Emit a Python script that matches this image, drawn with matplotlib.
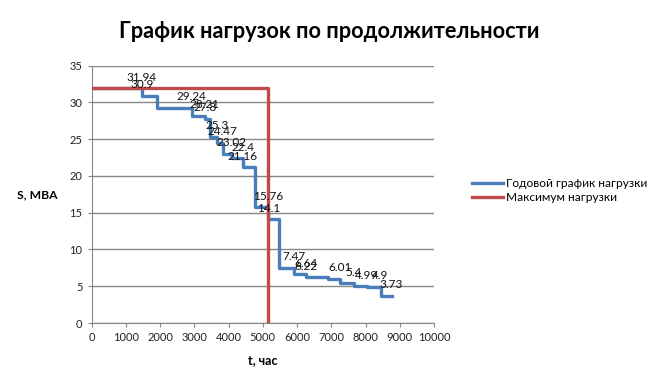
import numpy as np
import matplotlib
matplotlib.use('Agg')
import matplotlib.pyplot as plt

# load levels (MVA) and the hour at which each level ends
load_values = [31.94, 30.9, 29.24, 28.21, 27.8, 25.3, 24.47, 23.02, 22.4, 21.16,
               15.76, 14.1, 7.47, 6.64, 6.22, 6.01, 5.4, 4.99, 4.9, 3.73]
level_end_t = [1470, 1910, 2930, 3310, 3455, 3660, 3835, 4095, 4415, 4765,
               5160, 5465, 5905, 6275, 6895, 7245, 7655, 8030, 8440, 8760]
# hour at which each data label sits
label_t = [1470, 1470, 2930, 3310, 3310, 3660, 3835, 4095, 4415, 4415,
           5160, 5160, 5905, 6275, 6275, 7245, 7655, 8030, 8440, 8760]

s_max = 32
t_max = 5160
max_t = [0, t_max, t_max]
max_s = [s_max, s_max, 0]

x_ticks = list(range(0, 10001, 1000))
y_ticks = list(range(0, 36, 5))

plt.rcParams['font.family'] = ['Lato', 'DejaVu Sans']

blue = '#4A7EBB'
red = '#BE4B48'
grey = '#868686'

# step line: every level runs from the previous end to its own end
starts = [0] + level_end_t[:-1]
xs = np.ravel(np.column_stack([starts, level_end_t]))
ys = np.repeat(load_values, 2)

fig = plt.figure(figsize=(6.56, 3.85), dpi=100)
ax = fig.add_axes([0.1395, 0.161, 0.5221, 0.6684])

ax.plot(max_t, max_s, color=red, linewidth=2.4, label='Максимум нагрузки', zorder=3)
ax.plot(xs, ys, color=blue, linewidth=2.4, label='Годовой график нагрузки', zorder=2)

for v, t in zip(load_values, label_t):
    ax.annotate(f'{v:g}', (t, v), xytext=(0, 8), textcoords='offset points',
                ha='center', va='center', fontsize=8.5, color='#111111', zorder=5)

ax.set_xlim(0, 10000)
ax.set_ylim(0, 35)
ax.set_xticks(x_ticks)
ax.set_yticks(y_ticks)
ax.tick_params(labelsize=8, colors='#222222', length=3, color=grey)
ax.yaxis.grid(True, color=grey, linewidth=1)
ax.set_axisbelow(True)
for side in ['top', 'right']:
    ax.spines[side].set_visible(False)
for side in ['left', 'bottom']:
    ax.spines[side].set_color(grey)

ax.set_xlabel('t, час', fontsize=9, fontweight='bold', labelpad=8)
ax.set_ylabel('S, MBA', fontsize=8.7, fontweight='bold', rotation=0, labelpad=23, va='center')

fig.suptitle('График нагрузок по продолжительности', x=0.502, y=0.945,
             fontsize=15.7, fontweight='bold')

handles, labels = ax.get_legend_handles_labels()
fig.legend(handles[::-1], labels[::-1], loc='center left', bbox_to_anchor=(0.703, 0.505),
           frameon=False, fontsize=8.6, handlelength=2.6, handletextpad=0.25,
           labelspacing=0.3)

fig.savefig('out.png', dpi=100)
